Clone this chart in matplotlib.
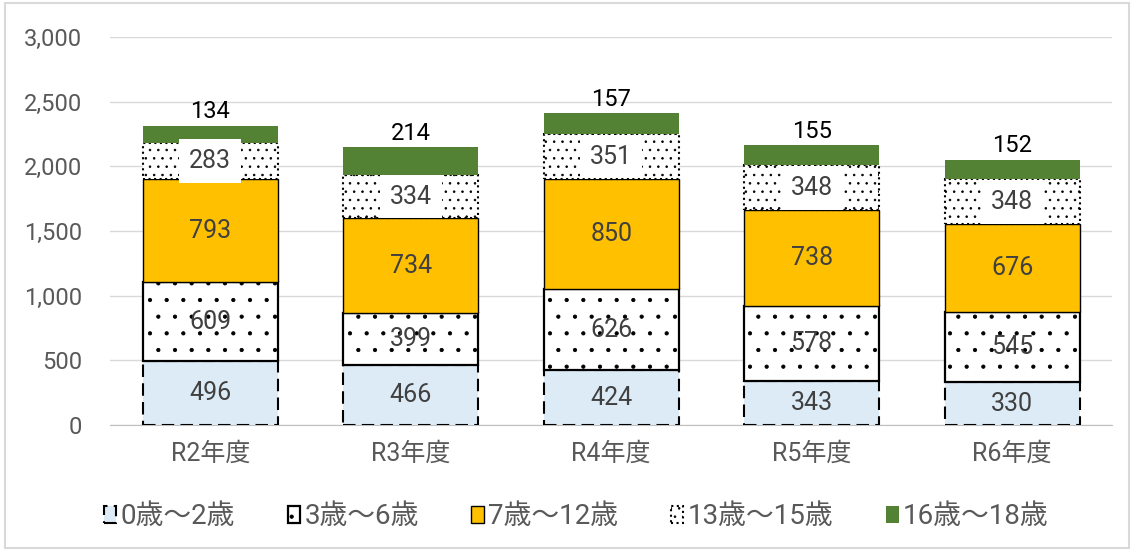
import matplotlib
matplotlib.use("Agg")
import matplotlib.pyplot as plt
from matplotlib.patches import Rectangle
import numpy as np

plt.rcParams['font.family'] = ['Roboto', 'Noto Sans CJK JP', 'DejaVu Sans']
plt.rcParams['hatch.linewidth'] = 0.6

years = ["R2年度", "R3年度", "R4年度", "R5年度", "R6年度"]
series_names = ["0歳～2歳", "3歳～6歳", "7歳～12歳", "13歳～15歳", "16歳～18歳"]
age_0_2 = [496, 466, 424, 343, 330]
age_3_6 = [609, 399, 626, 578, 545]
age_7_12 = [793, 734, 850, 738, 676]
age_13_15 = [283, 334, 351, 348, 348]
age_16_18 = [134, 214, 157, 155, 152]
yticks = [0, 500, 1000, 1500, 2000, 2500, 3000]

fig = plt.figure(figsize=(11.34, 5.5), dpi=100)
ax = fig.add_axes([0.097, 0.227, 0.884, 0.706])

x = np.arange(len(years))
w = 0.675
# style of each series: face, edge, hatch, linestyle
styles = [
    dict(facecolor="#DDEBF7", edgecolor="black", linestyle=(0, (6, 3)), linewidth=1.5),
    dict(facecolor="white", edgecolor="black", hatch=".", linewidth=1.6),
    dict(facecolor="#FFC000", edgecolor="black", linewidth=1.0),
    dict(facecolor="white", edgecolor="black", hatch="..", linestyle=":", linewidth=1.5),
    dict(facecolor="#548235", edgecolor="#548235", linewidth=0),
]
data = [age_0_2, age_3_6, age_7_12, age_13_15, age_16_18]

bottom = np.zeros(len(years))
handles = []
for i, (vals, st) in enumerate(zip(data, styles)):
    bars = ax.bar(x, vals, w, bottom=bottom, zorder=3, label=series_names[i], **st)
    handles.append(bars)
    for xi, b, v in zip(x, bottom, vals):
        if i == 4:
            ax.text(xi, b + v + 18, str(v), ha="center", va="bottom",
                    fontsize=17, color="black", zorder=5)
        elif i == 3:
            ax.text(xi, b + v / 2, str(v), ha="center", va="center",
                    fontsize=18, color="#404040", zorder=5,
                    bbox=dict(facecolor="white", edgecolor="none", pad=7))
        else:
            ax.text(xi, b + v / 2, str(v), ha="center", va="center",
                    fontsize=18, color="#404040", zorder=5)
    bottom = bottom + np.array(vals)

ax.set_xlim(-0.5, len(years) - 0.5)
ax.set_ylim(0, 3000)
ax.set_yticks(yticks)
ax.set_yticklabels([f"{t:,}" for t in yticks], fontsize=17, color="#595959")
ax.set_xticks(x)
ax.set_xticklabels(years, fontsize=18, color="#595959")
ax.tick_params(axis="both", length=0)
ax.tick_params(axis="y", pad=20)
ax.tick_params(axis="x", pad=12)
ax.grid(axis="y", color="#D9D9D9", linewidth=1, zorder=0)
for s in ["top", "right", "left"]:
    ax.spines[s].set_visible(False)
ax.spines["bottom"].set_color("#BFBFBF")
ax.spines["bottom"].set_zorder(2)

fig.legend(handles=handles, labels=series_names, loc="center", bbox_to_anchor=(0.508, 0.06),
           ncol=5, frameon=False, fontsize=20, handlelength=0.45, handleheight=0.55,
           handletextpad=0.15, columnspacing=1.9, labelcolor="#595959")

fig.patches.append(Rectangle((0.004, 0.004), 0.992, 0.99, transform=fig.transFigure,
                             fill=False, edgecolor="#D9D9D9", linewidth=1.5))

fig.savefig("out.png", dpi=100)
